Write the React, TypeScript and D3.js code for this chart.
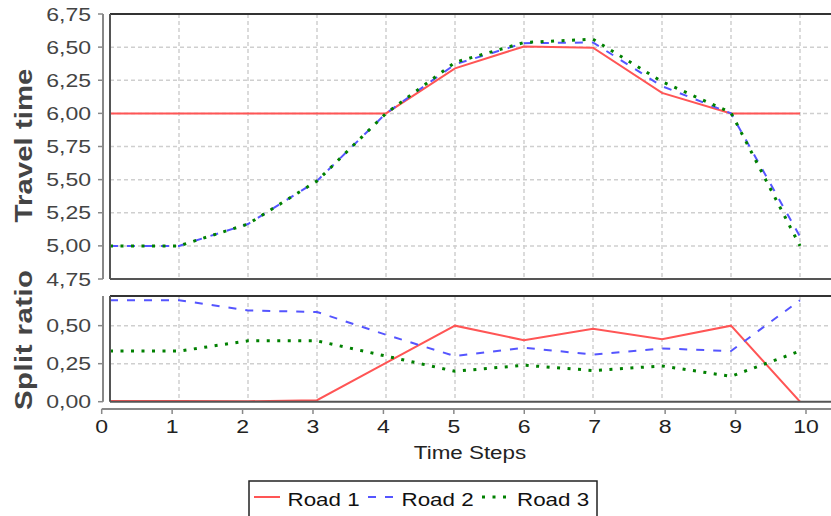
import React from "react";
import * as d3 from "d3";

// time steps shared by both panels
const steps = [0, 1, 2, 3, 4, 5, 6, 7, 8, 9, 10];

// travel time per road
const travelRoad1 = [6.0, 6.0, 6.0, 6.0, 6.0, 6.34, 6.505, 6.495, 6.155, 6.0, 6.0];
const travelRoad2 = [5.0, 5.0, 5.165, 5.49, 6.0, 6.37, 6.53, 6.535, 6.205, 6.0, 5.07];
const travelRoad3 = [5.0, 5.0, 5.165, 5.49, 6.0, 6.385, 6.535, 6.56, 6.24, 6.005, 5.0];

// split ratio per road
const splitRoad1 = [0.005, 0.005, 0.003, 0.01, 0.255, 0.5, 0.404, 0.48, 0.41, 0.5, 0.0];
const splitRoad2 = [0.667, 0.667, 0.6, 0.59, 0.44, 0.3, 0.355, 0.31, 0.35, 0.333, 0.667];
const splitRoad3 = [0.333, 0.333, 0.4, 0.4, 0.3, 0.2, 0.24, 0.205, 0.235, 0.167, 0.333];

const travelTicks = [4.75, 5.0, 5.25, 5.5, 5.75, 6.0, 6.25, 6.5, 6.75];
const splitTicks = [0, 0.25, 0.5];
const roadNames = ["Road 1", "Road 2", "Road 3"];

const W = 831;
const H = 516;
const FONT = "'Liberation Sans', Arial, sans-serif";
const STRETCH = 1.28;

const styles = [
  { color: "#ff5555", width: 2, dash: null },
  { color: "#5555ff", width: 2, dash: "8,9" },
  { color: "#008000", width: 3, dash: "3,7.5" },
];

const comma = (v) => d3.format(".2f")(v).replace(".", ",");

// JFreeChart-like wide text
const Txt = ({ x, y, anchor = "start", rotate = 0, size = 18, weight = "normal", fill = "#444", len = null, children }) => (
  <text
    transform={`translate(${x},${y}) rotate(${rotate}) scale(${STRETCH},1)`}
    textAnchor={anchor}
    fontSize={size}
    fontWeight={weight}
    fontFamily={FONT}
    fill={fill}
    textLength={len ? len / STRETCH : undefined}
    lengthAdjust={len ? "spacing" : undefined}
  >
    {children}
  </text>
);

const App = () => {
  const plotLeft = 110;
  const plotRight = W;

  const xPlot = d3.scaleLinear().domain([0, 10]).range([110, 800]);
  const xAxis = d3.scaleLinear().domain([0, 10]).range([101.7, 806]);
  const yTop = d3.scaleLinear().domain([4.75, 6.75]).range([279, 14]);
  const yBot = d3.scaleLinear().domain([0, 0.695]).range([401.7, 296]);

  const panels = [
    { y: yTop, ticks: travelTicks, series: [travelRoad1, travelRoad2, travelRoad3], label: "Travel time", id: "top", labelY: 145.5, labelLen: 154 },
    { y: yBot, ticks: splitTicks, series: [splitRoad1, splitRoad2, splitRoad3], label: "Split ratio", id: "bot", labelY: 340, labelLen: 140 },
  ];

  const axisY = 409;

  return (
    <svg width={W} height={H} style={{ position: "absolute", left: 0, top: 0, background: "#fff" }}>
      <defs>
        {panels.map((p) => (
          <clipPath id={`clip-${p.id}`} key={p.id}>
            <rect
              x={plotLeft}
              y={p.y.range()[1]}
              width={plotRight - plotLeft}
              height={p.y.range()[0] - p.y.range()[1]}
            />
          </clipPath>
        ))}
      </defs>

      {panels.map((p) => {
        const [y0, y1] = p.y.range();
        const line = d3
          .line()
          .x((d, i) => xPlot(steps[i]))
          .y((d) => p.y(d));
        const gridY = p.id === "top" ? p.ticks.slice(1, -1) : p.ticks.slice(1);
        return (
          <g key={p.id}>
            {/* grid */}
            {gridY.map((t) => (
              <line key={`h${t}`} x1={plotLeft} x2={plotRight} y1={p.y(t)} y2={p.y(t)} stroke="#cfcfcf" strokeWidth={1.5} strokeDasharray="4,3" />
            ))}
            {steps.slice(1).map((s) => (
              <line key={`v${s}`} x1={xPlot(s)} x2={xPlot(s)} y1={y1} y2={y0} stroke="#cfcfcf" strokeWidth={1.5} strokeDasharray="4,3" />
            ))}
            {/* series */}
            <g clipPath={`url(#clip-${p.id})`}>
              {p.series.map((s, i) => (
                <path
                  key={i}
                  d={line(s)}
                  fill="none"
                  stroke={styles[i].color}
                  strokeWidth={styles[i].width}
                  strokeDasharray={styles[i].dash || undefined}
                />
              ))}
            </g>
            {/* outline */}
            <line x1={plotLeft} x2={plotRight} y1={y1} y2={y1} stroke="#333" strokeWidth={2} />
            <line x1={plotLeft} x2={plotRight} y1={y0} y2={y0} stroke="#555" strokeWidth={2} />
            <line x1={plotLeft} x2={plotLeft} y1={y1} y2={y0} stroke="#555" strokeWidth={2} />
            {/* y axis */}
            <line x1={103} x2={103} y1={y1} y2={y0} stroke="#888" strokeWidth={2} />
            {p.ticks.map((t) => (
              <g key={`t${t}`}>
                <line x1={98} x2={103} y1={p.y(t)} y2={p.y(t)} stroke="#888" strokeWidth={1.5} />
                <Txt x={91} y={p.y(t) + 6.5} anchor="end" size={18}>
                  {comma(t)}
                </Txt>
              </g>
            ))}
            <Txt x={32} y={p.labelY} anchor="middle" rotate={-90} size={23} weight="bold" len={p.labelLen}>
              {p.label}
            </Txt>
          </g>
        );
      })}

      {/* shared x axis */}
      <line x1={xAxis(0)} x2={W} y1={axisY} y2={axisY} stroke="#888" strokeWidth={2} />
      {steps.map((s) => (
        <g key={s}>
          <line x1={xAxis(s)} x2={xAxis(s)} y1={axisY} y2={axisY + 5} stroke="#888" strokeWidth={1.5} />
          <Txt x={xAxis(s)} y={433} anchor="middle" size={18} fill="#222">
            {s}
          </Txt>
        </g>
      ))}
      <Txt x={470} y={459} anchor="middle" size={17.5} fill="#222">
        Time Steps
      </Txt>

      {/* legend */}
      <rect x={249} y={481} width={348} height={40} fill="#fff" stroke="#222" strokeWidth={1.5} />
      {roadNames.map((name, i) => {
        const x0 = [254, 368, 482][i];
        return (
          <g key={name}>
            <line
              x1={x0}
              x2={x0 + 26}
              y1={497}
              y2={497}
              stroke={styles[i].color}
              strokeWidth={styles[i].width}
              strokeDasharray={styles[i].dash || undefined}
            />
            <Txt x={[287.5, 401.5, 517][i]} y={505.5} size={17.5} fill="#111">
              {name}
            </Txt>
          </g>
        );
      })}
    </svg>
  );
};

export default App;
